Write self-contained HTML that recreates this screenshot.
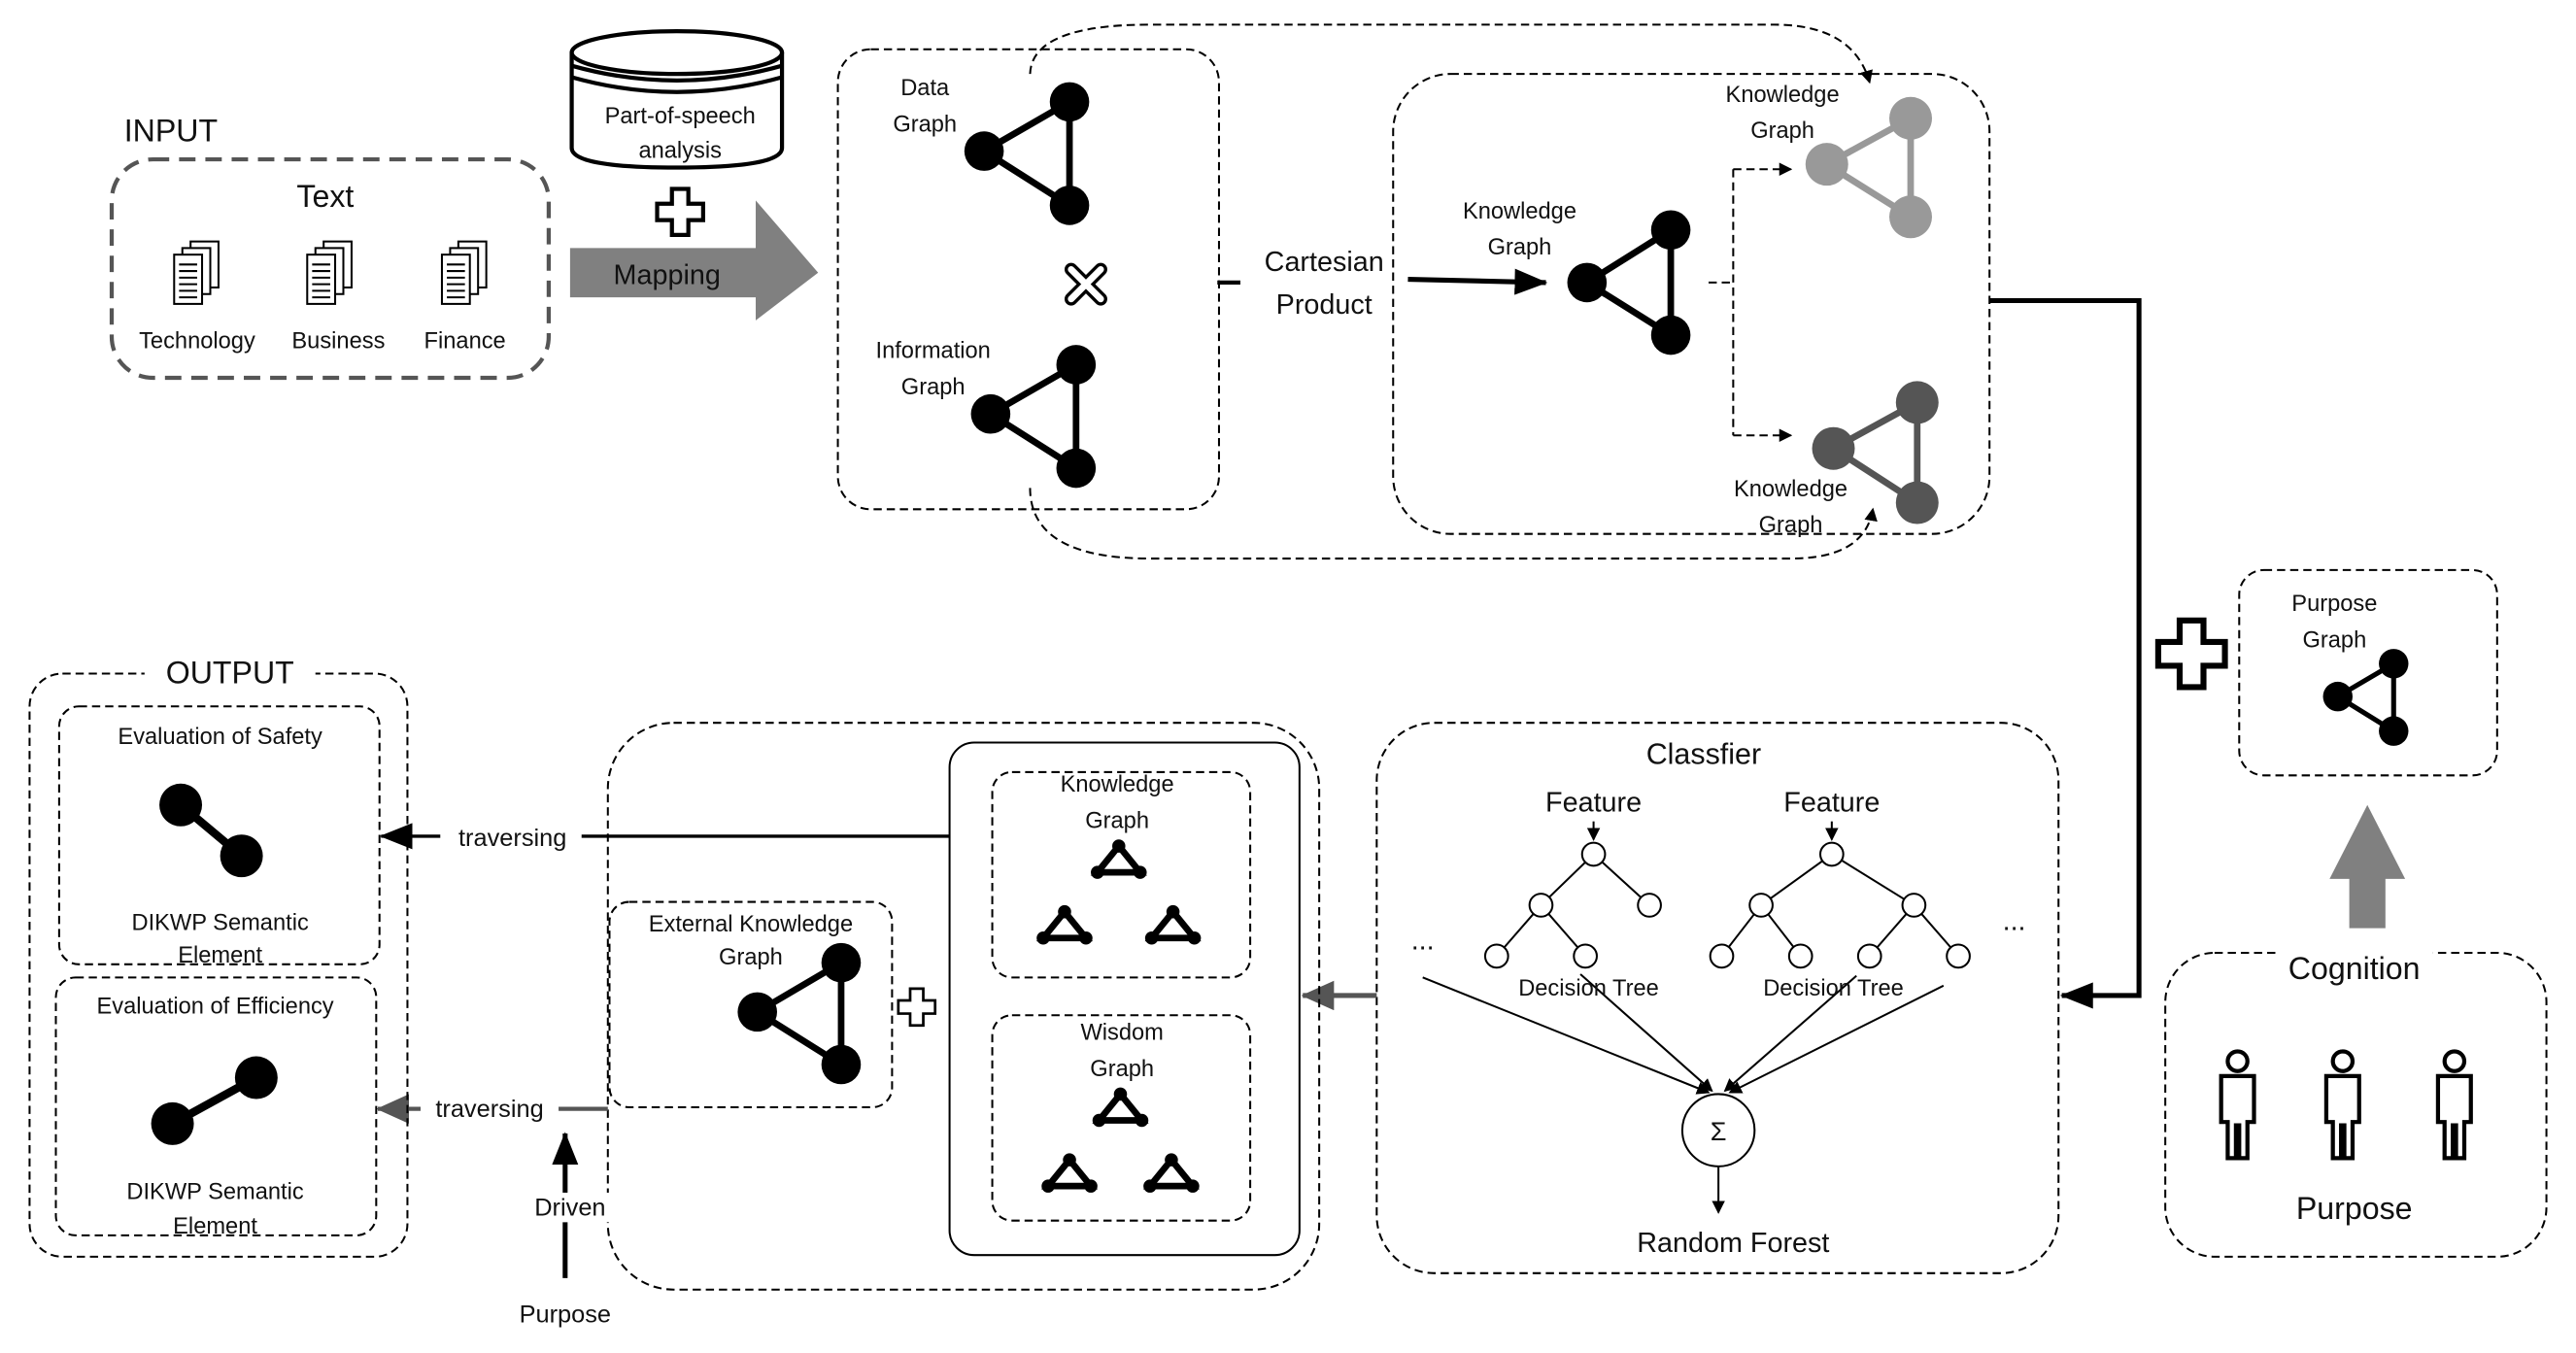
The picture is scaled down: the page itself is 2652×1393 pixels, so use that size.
<!DOCTYPE html>
<html><head><meta charset="utf-8"><style>
html,body{margin:0;padding:0;background:#fff;}
svg{display:block;}
text{font-family:"Liberation Sans",sans-serif;fill:#111;text-anchor:middle;}
</style></head><body>
<svg width="2652" height="1393" viewBox="0 0 1568 823.6" preserveAspectRatio="none" xmlns="http://www.w3.org/2000/svg">
<defs>
<marker id="ah" markerWidth="8" markerHeight="8" refX="7" refY="4" orient="auto" markerUnits="userSpaceOnUse"><path d="M0,0 L8,4 L0,8 z" fill="#000"/></marker>
<marker id="ahb" markerWidth="20" markerHeight="16" refX="19" refY="8" orient="auto" markerUnits="userSpaceOnUse"><path d="M0,0 L20,8 L0,16 z" fill="#000"/></marker>
<marker id="ahg" markerWidth="20" markerHeight="18" refX="19" refY="9" orient="auto" markerUnits="userSpaceOnUse"><path d="M0,0 L20,9 L0,18 z" fill="#555"/></marker>
<g id="doc"><rect x="10" y="0" width="17" height="28" fill="#fff" stroke="#000" stroke-width="1.2"/><rect x="5" y="4" width="17" height="28" fill="#fff" stroke="#000" stroke-width="1.2"/><rect x="0" y="8" width="17" height="30" fill="#fff" stroke="#000" stroke-width="1.2"/><path d="M3,14h11M3,18h11M3,22h11M3,26h11M3,30h11M3,34h11" stroke="#000" stroke-width="1.2"/></g>
<g id="plus"><path d="M-5,-14h10v9h9v10h-9v9h-10v-9h-9v-10h9z" fill="#fff" stroke="#000" stroke-width="2.5"/></g>
<g id="person"><circle cx="0" cy="6" r="6" fill="#fff" stroke="#000" stroke-width="2.5"/><path d="M-10,15h20v28h-4v22h-5v-20h-2v20h-5v-22h-4z" fill="#fff" stroke="#000" stroke-width="2.5"/></g>
<g id="tri"><path d="M0,0 L-13,16 L13,16 z" fill="none" stroke="#000" stroke-width="4"/><circle cx="0" cy="0" r="4" fill="#000"/><circle cx="-13" cy="16" r="4" fill="#000"/><circle cx="13" cy="16" r="4" fill="#000"/></g>
</defs>

<!-- INPUT -->
<text x="104" y="86" font-size="19">INPUT</text>
<rect x="68" y="97" width="266" height="133" rx="25" fill="none" stroke="#555" stroke-width="2.5" stroke-dasharray="10 6"/>
<text x="198" y="126" font-size="19">Text</text>
<use href="#doc" x="106" y="147"/><use href="#doc" x="187" y="147"/><use href="#doc" x="269" y="147"/>
<text x="120" y="212" font-size="14">Technology</text>
<text x="206" y="212" font-size="14">Business</text>
<text x="283" y="212" font-size="14">Finance</text>

<!-- cylinder -->
<path d="M348,32 L348,90 Q348,102 412,102 Q476,102 476,90 L476,32" fill="#fff" stroke="#000" stroke-width="2.5"/>
<ellipse cx="412" cy="32" rx="64" ry="13" fill="#fff" stroke="#000" stroke-width="2.5"/>
<path d="M348,40 Q412,58 476,40 M348,47 Q412,65 476,47" fill="none" stroke="#000" stroke-width="2.5"/>
<text x="414" y="75" font-size="14">Part-of-speech</text>
<text x="414" y="96" font-size="14">analysis</text>
<use href="#plus" x="414" y="129"/>
<path d="M347,151 H460 V122 L498,166 L460,195 V181 H347 z" fill="#808080"/>
<text x="406" y="173" font-size="17">Mapping</text>

<!-- data/info box -->
<rect x="510" y="30" width="232" height="280" rx="20" fill="none" stroke="#000" stroke-width="1.2" stroke-dasharray="5 3"/>
<text x="563" y="58" font-size="14">Data</text><text x="563" y="80" font-size="14">Graph</text>
<g stroke="#000" stroke-width="4"><path d="M599,92 L651,62 L651,125 z" fill="none"/></g>
<g fill="#000"><circle cx="599" cy="92" r="12"/><circle cx="651" cy="62" r="12"/><circle cx="651" cy="125" r="12"/></g>
<path d="M652,164 L670,182 M670,164 L652,182" stroke="#000" stroke-width="8" stroke-linecap="round"/>
<path d="M652,164 L670,182 M670,164 L652,182" stroke="#fff" stroke-width="4" stroke-linecap="round"/>
<text x="568" y="218" font-size="14">Information</text><text x="568" y="240" font-size="14">Graph</text>
<path d="M603,252 L655,222 L655,285 z" fill="none" stroke="#000" stroke-width="4"/>
<g fill="#000"><circle cx="603" cy="252" r="12"/><circle cx="655" cy="222" r="12"/><circle cx="655" cy="285" r="12"/></g>
<path d="M627,45 Q628,15 700,15 L1080,15 Q1128,15 1138,50" fill="none" stroke="#000" stroke-width="1.2" stroke-dasharray="5 3" marker-end="url(#ah)"/>
<path d="M627,297 Q627,340 700,340 L1090,340 Q1135,340 1140,310" fill="none" stroke="#000" stroke-width="1.2" stroke-dasharray="5 3" marker-end="url(#ah)"/>
<path d="M741,172 H755" stroke="#000" stroke-width="2.5"/>
<text x="806" y="165" font-size="17">Cartesian</text><text x="806" y="191" font-size="17">Product</text>

<!-- cartesian box -->
<rect x="848" y="45" width="363" height="280" rx="35" fill="none" stroke="#000" stroke-width="1.2" stroke-dasharray="5 3"/>
<text x="925" y="133" font-size="14">Knowledge</text><text x="925" y="155" font-size="14">Graph</text>
<path d="M857,170 L941,172" stroke="#000" stroke-width="3" marker-end="url(#ahb)"/>
<path d="M966,172 L1017,140 L1017,204 z" fill="none" stroke="#000" stroke-width="4"/>
<g fill="#000"><circle cx="966" cy="172" r="12"/><circle cx="1017" cy="140" r="12"/><circle cx="1017" cy="204" r="12"/></g>
<path d="M1040,172 H1055 M1055,103 V265" stroke="#000" stroke-width="1.2" stroke-dasharray="5 3"/>
<path d="M1055,103 H1090" stroke="#000" stroke-width="1.2" stroke-dasharray="5 3" marker-end="url(#ah)"/>
<path d="M1055,265 H1090" stroke="#000" stroke-width="1.2" stroke-dasharray="5 3" marker-end="url(#ah)"/>
<path d="M1112,100 L1163,72 L1163,132 z" fill="none" stroke="#999" stroke-width="4"/>
<g fill="#999"><circle cx="1112" cy="100" r="13"/><circle cx="1163" cy="72" r="13"/><circle cx="1163" cy="132" r="13"/></g>
<text x="1085" y="62" font-size="14">Knowledge</text><text x="1085" y="84" font-size="14">Graph</text>
<path d="M1116,273 L1167,245 L1167,306 z" fill="none" stroke="#555" stroke-width="4"/>
<g fill="#555"><circle cx="1116" cy="273" r="13"/><circle cx="1167" cy="245" r="13"/><circle cx="1167" cy="306" r="13"/></g>
<text x="1090" y="302" font-size="14">Knowledge</text><text x="1090" y="324" font-size="14">Graph</text>
<path d="M1211,183 H1302 V606 H1255" fill="none" stroke="#000" stroke-width="3" marker-end="url(#ahb)"/>

<!-- purpose graph -->
<use href="#plus" x="1334" y="398" transform="translate(1334 398) scale(1.45) translate(-1334 -398)"/>
<rect x="1363" y="347" width="157" height="125" rx="15" fill="none" stroke="#000" stroke-width="1.2" stroke-dasharray="5 3"/>
<text x="1421" y="372" font-size="14">Purpose</text><text x="1421" y="394" font-size="14">Graph</text>
<path d="M1423,424 L1457,404 L1457,445 z" fill="none" stroke="#000" stroke-width="3"/>
<g fill="#000"><circle cx="1423" cy="424" r="9"/><circle cx="1457" cy="404" r="9"/><circle cx="1457" cy="445" r="9"/></g>
<path d="M1430,565 V535 H1418 L1441,490 L1464,535 H1452 V565 z" fill="#808080"/>

<!-- cognition -->
<rect x="1318" y="580" width="232" height="185" rx="30" fill="none" stroke="#000" stroke-width="1.2" stroke-dasharray="5 3"/>
<rect x="1385" y="578" width="96" height="22" fill="#fff"/>
<text x="1433" y="596" font-size="19">Cognition</text>
<use href="#person" x="1362" y="640"/><use href="#person" x="1426" y="640"/><use href="#person" x="1494" y="640"/>
<text x="1433" y="742" font-size="19">Purpose</text>

<!-- classifier -->
<rect x="838" y="440" width="415" height="335" rx="35" fill="none" stroke="#000" stroke-width="1.2" stroke-dasharray="5 3"/>
<text x="1037" y="465" font-size="18">Classfier</text>
<text x="970" y="494" font-size="17">Feature</text><text x="1115" y="494" font-size="17">Feature</text>
<path d="M970,500 V511" stroke="#000" stroke-width="1.2" marker-end="url(#ah)"/>
<path d="M1115,500 V511" stroke="#000" stroke-width="1.2" marker-end="url(#ah)"/>
<g stroke="#000" stroke-width="1.2" fill="none">
<path d="M970,520 L938,551 M970,520 L1004,551 M938,551 L911,582 M938,551 L965,582"/>
<path d="M1115,520 L1072,551 M1115,520 L1165,551 M1072,551 L1048,582 M1072,551 L1096,582 M1165,551 L1138,582 M1165,551 L1192,582"/>
</g>
<g stroke="#000" stroke-width="1.2" fill="#fff">
<circle cx="970" cy="520" r="7"/><circle cx="938" cy="551" r="7"/><circle cx="1004" cy="551" r="7"/><circle cx="911" cy="582" r="7"/><circle cx="965" cy="582" r="7"/>
<circle cx="1115" cy="520" r="7"/><circle cx="1072" cy="551" r="7"/><circle cx="1165" cy="551" r="7"/><circle cx="1048" cy="582" r="7"/><circle cx="1096" cy="582" r="7"/><circle cx="1138" cy="582" r="7"/><circle cx="1192" cy="582" r="7"/>
</g>
<text x="866" y="578" font-size="17">...</text><text x="1226" y="566" font-size="17">...</text>
<g stroke="#000" stroke-width="1.2">
<path d="M866,595 L1040,665" marker-end="url(#ah)"/>
<path d="M962,593 L1042,664" marker-end="url(#ah)"/>
<path d="M1130,594 L1050,664" marker-end="url(#ah)"/>
<path d="M1183,600 L1053,665" marker-end="url(#ah)"/>
</g>
<text x="967" y="606" font-size="14">Decision Tree</text><text x="1116" y="606" font-size="14">Decision Tree</text>
<circle cx="1046" cy="688" r="22" fill="#fff" stroke="#000" stroke-width="1.2"/>
<text x="1046" y="694" font-size="16">Σ</text>
<path d="M1046,710 V738" stroke="#000" stroke-width="1.2" marker-end="url(#ah)"/>
<text x="1055" y="762" font-size="17">Random Forest</text>
<path d="M838,606 H793" stroke="#555" stroke-width="3" marker-end="url(#ahg)"/>

<!-- middle bottom -->
<rect x="370" y="440" width="433" height="345" rx="40" fill="none" stroke="#000" stroke-width="1.2" stroke-dasharray="5 3"/>
<rect x="578" y="452" width="213" height="312" rx="15" fill="none" stroke="#000" stroke-width="1.2"/>
<rect x="604" y="470" width="157" height="125" rx="12" fill="none" stroke="#000" stroke-width="1.2" stroke-dasharray="5 3"/>
<text x="680" y="482" font-size="14">Knowledge</text><text x="680" y="504" font-size="14">Graph</text>
<use href="#tri" x="681" y="515"/><use href="#tri" x="648" y="555"/><use href="#tri" x="714" y="555"/>
<rect x="604" y="618" width="157" height="125" rx="12" fill="none" stroke="#000" stroke-width="1.2" stroke-dasharray="5 3"/>
<text x="683" y="633" font-size="14">Wisdom</text><text x="683" y="655" font-size="14">Graph</text>
<use href="#tri" x="682" y="666"/><use href="#tri" x="651" y="706"/><use href="#tri" x="713" y="706"/>
<rect x="371" y="549" width="172" height="125" rx="12" fill="none" stroke="#000" stroke-width="1.2" stroke-dasharray="5 3"/>
<text x="457" y="567" font-size="14">External Knowledge</text><text x="457" y="587" font-size="14">Graph</text>
<path d="M461,616 L512,586 L512,648 z" fill="none" stroke="#000" stroke-width="4"/>
<g fill="#000"><circle cx="461" cy="616" r="12"/><circle cx="512" cy="586" r="12"/><circle cx="512" cy="648" r="12"/></g>
<g transform="translate(558 613) scale(0.8)"><path d="M-5,-14h10v9h9v10h-9v9h-10v-9h-9v-10h9z" fill="#fff" stroke="#000" stroke-width="2"/></g>

<path d="M578,509 H232" stroke="#000" stroke-width="2" marker-end="url(#ahb)"/>
<rect x="268" y="500" width="86" height="20" fill="#fff"/>
<text x="312" y="515" font-size="15">traversing</text>
<path d="M370,675 H230" stroke="#555" stroke-width="2.5" marker-end="url(#ahg)"/>
<rect x="256" y="665" width="84" height="20" fill="#fff"/>
<text x="298" y="680" font-size="15">traversing</text>
<path d="M344,778 V690" stroke="#000" stroke-width="3" marker-end="url(#ahb)"/>
<rect x="322" y="726" width="50" height="18" fill="#fff"/>
<text x="347" y="740" font-size="15">Driven</text>
<text x="344" y="805" font-size="15">Purpose</text>

<!-- OUTPUT -->
<rect x="18" y="410" width="230" height="355" rx="20" fill="none" stroke="#000" stroke-width="1.2" stroke-dasharray="5 3"/>
<rect x="88" y="398" width="104" height="24" fill="#fff"/>
<text x="140" y="416" font-size="19">OUTPUT</text>
<rect x="36" y="430" width="195" height="157" rx="12" fill="none" stroke="#000" stroke-width="1.2" stroke-dasharray="5 3"/>
<text x="134" y="453" font-size="14">Evaluation of Safety</text>
<path d="M110,490 L147,521" stroke="#000" stroke-width="5"/>
<circle cx="110" cy="490" r="13" fill="#000"/><circle cx="147" cy="521" r="13" fill="#000"/>
<text x="134" y="566" font-size="14">DIKWP Semantic</text><text x="134" y="586" font-size="14">Element</text>
<rect x="34" y="595" width="195" height="157" rx="12" fill="none" stroke="#000" stroke-width="1.2" stroke-dasharray="5 3"/>
<text x="131" y="617" font-size="14">Evaluation of Efficiency</text>
<path d="M105,684 L156,656" stroke="#000" stroke-width="5"/>
<circle cx="105" cy="684" r="13" fill="#000"/><circle cx="156" cy="656" r="13" fill="#000"/>
<text x="131" y="730" font-size="14">DIKWP Semantic</text><text x="131" y="751" font-size="14">Element</text>
</svg>
</body></html>
